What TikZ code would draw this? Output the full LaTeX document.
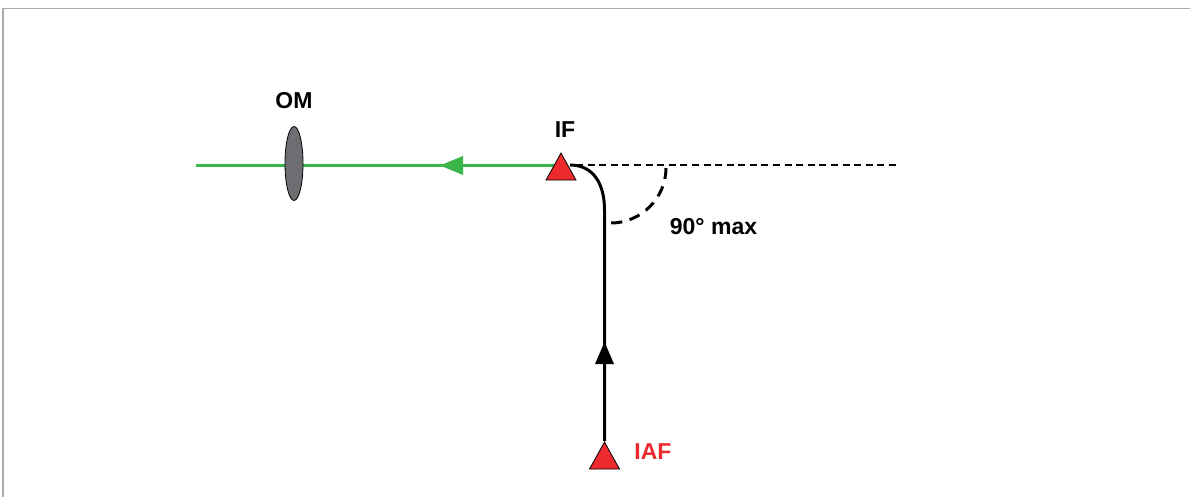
\documentclass[tikz,border=0pt]{standalone}
\usepackage{fontspec}
\setmainfont{Liberation Sans}
\usetikzlibrary{shapes.geometric,arrows.meta,backgrounds}
\definecolor{fixred}{HTML}{ED2B2F}
\definecolor{leggreen}{HTML}{39B54A}
\definecolor{lensgray}{HTML}{6D6E71}
\definecolor{framegray}{HTML}{ABABAB}
\tikzset{
  x=1pt,y=-1pt,
  fixtri/.style={isosceles triangle,isosceles triangle stretches,shape border rotate=90,
    minimum width=30pt,minimum height=27pt,inner sep=0pt,draw=black,line width=0.8pt,fill=fixred,anchor=apex},
  lens/.style={ellipse,minimum width=18pt,minimum height=74pt,inner sep=0pt,draw=black,line width=0.8pt,fill=lensgray},
  lbl/.style={font=\fontsize{23}{26}\selectfont\bfseries,inner sep=0pt},
  greenleg/.style={draw=leggreen,line width=3.7pt},
  blackleg/.style={draw=black,line width=3pt},
  refline/.style={draw=black,line width=1.5pt,dash pattern=on 7pt off 4.59pt},
  anglearc/.style={draw=black,line width=3pt,dash pattern=on 11pt off 7.75pt},
  frameline/.style={draw=framegray,line width=1.6pt}
}
\begin{document}
\begin{tikzpicture}
\useasboundingbox (0,0) rectangle (1190,497);
\coordinate (fa) at (3,497);
\coordinate (fb) at (3,8.5);
\coordinate (fc) at (1190,8.5);
\draw[frameline] (fa) -- (fb) -- (fc);
% nodes
\node[fixtri] (if) at (561,152) {};
\node[fixtri] (iaf) at (604.5,441) {};
\node[lens] (om) at (294,163.5) {};
\node[lbl] (omlabel) at (294,101) {OM};
\node[lbl] (iflabel) at (565,130) {IF};
\node[lbl] (anglelabel) at (713.5,226.5) {90° max};
\node[lbl,text=fixred] (iaflabel) at (653,452) {IAF};
\coordinate (greenend) at (196,165.5);
\coordinate (greentip) at (440,165.5);
\coordinate (greenstart) at (561,165.5);
\coordinate (blacktip) at (604.5,342);
\coordinate (blackcurve) at (604.5,210);
\coordinate (curveend) at (570,165);
\coordinate (refstart) at (576,165);
\coordinate (refend) at (896,165);
\coordinate (arcstart) at (666,168);
\coordinate (arcend) at (611,223);
\begin{pgfonlayer}{background}
\draw[greenleg] (greenstart) -- (greenend);
\draw[refline] (refstart) -- (refend);
\draw[anglearc] (arcstart) .. controls (666,198) and (641,223) .. (arcend);
\draw[blackleg] (iaf.apex) -- (blackcurve) .. controls (604.5,182) and (592,165) .. (curveend);
\end{pgfonlayer}
\fill[leggreen] (greentip) -- (463,156) -- (463,175) -- cycle;
\fill[black] (blacktip) -- (595,364) -- (614,364) -- cycle;
\end{tikzpicture}
\end{document}
